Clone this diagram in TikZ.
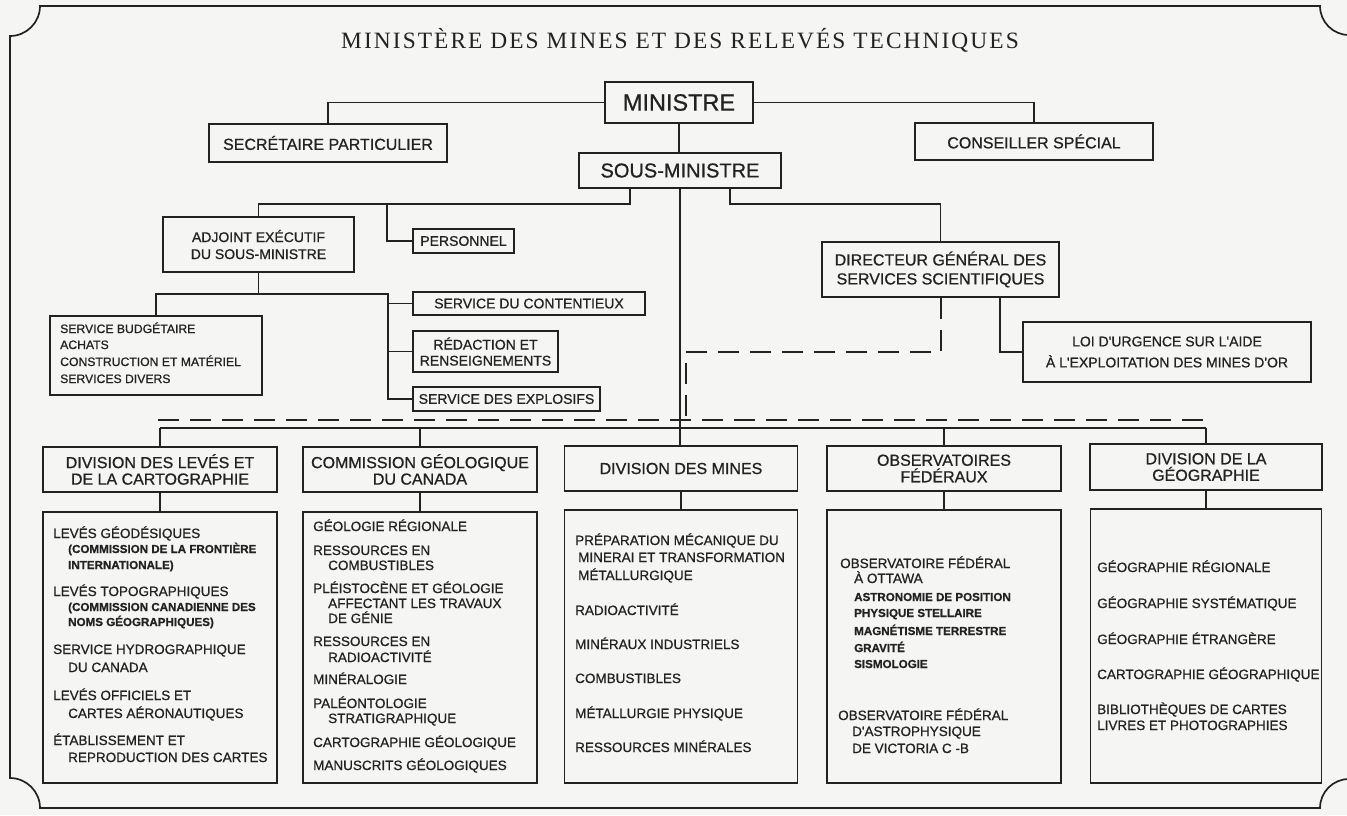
\documentclass[tikz,border=0pt]{standalone}
\usepackage{fontspec}
\newfontfamily\chartsans[FakeBold=0.8]{Liberation Sans}
\newfontfamily\titleserif[LetterSpace=8.8]{Liberation Serif}
\definecolor{ink}{RGB}{34,34,34}
\definecolor{paper}{RGB}{245,245,243}
\begin{document}
\begin{tikzpicture}[x=1pt,y=-1pt,
  line/.style={draw=ink, line width=1.2pt},
  dline/.style={draw=ink, line width=1.3pt, dash pattern=on 21pt off 11pt},
  frame/.style={draw=ink, line width=1.7pt},
  bx/.style={draw=ink, line width=1.8pt, inner sep=0pt, align=center, text=ink},
  f16/.style={font=\chartsans\fontsize{16}{16.5}\selectfont},
  f14/.style={font=\chartsans\fontsize{14}{17}\selectfont},
  f20/.style={font=\chartsans\fontsize{20}{22}\selectfont},
  f23/.style={font=\chartsans\fontsize{23.5}{25}\selectfont},
  itm/.style={anchor=base west, inner sep=0pt, text=ink, font=\chartsans\fontsize{13.5}{15}\selectfont},
  itms/.style={itm, font=\chartsans\bfseries\fontsize{11.6}{14}\selectfont},
  itmb/.style={itm, font=\chartsans\fontsize{12.2}{14}\selectfont}
]
\useasboundingbox (0,0) rectangle (1347,815);
\fill[paper] (0,0) rectangle (1347,815);

% frame with concave corners
\draw[frame] (10,36) -- (10,778) .. controls (26.5,778) and (40,791.5) .. (40,808)
  -- (1320,808) .. controls (1320,792) and (1333,779) .. (1349,779)
  -- (1349,35) .. controls (1333,35) and (1320,22) .. (1320,6)
  -- (40,6) .. controls (40,22.5) and (26.5,36) .. (10,36) -- cycle;

% title
\node[anchor=base, font=\titleserif\fontsize{23.4}{28}\selectfont, text=ink, inner sep=0pt] (title) at (680,48)
  {MINISTÈRE DES MINES ET DES RELEVÉS TECHNIQUES};

% upper boxes
\node[bx, f23, minimum width=148pt, minimum height=41pt] (min) at (679,102.5) {MINISTRE};
\node[bx, f20, minimum width=202pt, minimum height=35pt] (sous) at (680,170.5) {SOUS-MINISTRE};
\node[bx, f16, minimum width=238pt, minimum height=38pt] (sec) at (328,143) {SECRÉTAIRE PARTICULIER};
\node[bx, f16, minimum width=238pt, minimum height=37pt] (cons) at (1034,141.5) {CONSEILLER SPÉCIAL};
\node[bx, f14, minimum width=191pt, minimum height=55pt] (adj) at (258.5,244.5) {ADJOINT EXÉCUTIF\\DU SOUS-MINISTRE};
\node[bx, f14, minimum width=101pt, minimum height=24pt] (pers) at (463.5,241) {PERSONNEL};
\node[bx, f14, minimum width=232pt, minimum height=23pt] (cont) at (529,303.5) {SERVICE DU CONTENTIEUX};
\node[bx, f14, font=\chartsans\fontsize{14}{16}\selectfont, minimum width=145pt, minimum height=41pt] (red) at (485.5,351.5) {RÉDACTION ET\\RENSEIGNEMENTS};
\node[bx, f14, minimum width=187pt, minimum height=24pt] (expl) at (506.5,399) {SERVICE DES EXPLOSIFS};
\node[bx, minimum width=212pt, minimum height=79pt] (bud) at (156,355.5) {};
\node[bx, font=\chartsans\fontsize{16}{19}\selectfont, minimum width=237pt, minimum height=55pt] (dir) at (940.5,269.5) {DIRECTEUR GÉNÉRAL DES\\SERVICES SCIENTIFIQUES};
\node[bx, font=\chartsans\fontsize{14}{21}\selectfont, minimum width=288pt, minimum height=60pt] (loi) at (1167,352) {LOI D'URGENCE SUR L'AIDE\\À L'EXPLOITATION DES MINES D'OR};

\node[itmb] (b1) at (60,333) {SERVICE BUDGÉTAIRE};
\node[itmb] (b2) at (60,349) {ACHATS};
\node[itmb] (b3) at (60,366) {CONSTRUCTION ET MATÉRIEL};
\node[itmb] (b4) at (60,383) {SERVICES DIVERS};

% division headers
\node[bx, f16, minimum width=234pt, minimum height=45pt] (d1) at (160,469.5) {DIVISION DES LEVÉS ET\\DE LA CARTOGRAPHIE};
\node[bx, f16, minimum width=234pt, minimum height=45pt] (d2) at (420,469.5) {COMMISSION GÉOLOGIQUE\\DU CANADA};
\node[bx, f16, minimum width=233pt, minimum height=45pt] (d3) at (681,468.5) {DIVISION DES MINES};
\node[bx, f16, minimum width=234pt, minimum height=45pt] (d4) at (944,468.5) {OBSERVATOIRES\\FÉDÉRAUX};
\node[bx, f16, minimum width=232pt, minimum height=46pt] (d5) at (1206,467) {DIVISION DE LA\\GÉOGRAPHIE};

% content boxes
\node[bx, minimum width=234pt, minimum height=271pt] (c1) at (160,647.5) {};
\node[bx, minimum width=234pt, minimum height=271pt] (c2) at (420,647.5) {};
\node[bx, minimum width=233pt, minimum height=273pt] (c3) at (681,646.5) {};
\node[bx, minimum width=234pt, minimum height=273pt] (c4) at (944,646.5) {};
\node[bx, minimum width=231pt, minimum height=274pt] (c5) at (1206,646) {};

% content C1
\node[itm] (c1a) at (53,538) {LEVÉS GÉODÉSIQUES};
\node[itms] (c1b) at (68,553) {(COMMISSION DE LA FRONTIÈRE};
\node[itms] (c1c) at (68,569) {INTERNATIONALE)};
\node[itm] (c1d) at (53,596) {LEVÉS TOPOGRAPHIQUES};
\node[itms] (c1e) at (68,611) {(COMMISSION CANADIENNE DES};
\node[itms] (c1f) at (68,626) {NOMS GÉOGRAPHIQUES)};
\node[itm] (c1g) at (53,654) {SERVICE HYDROGRAPHIQUE};
\node[itm] (c1h) at (68,672) {DU CANADA};
\node[itm] (c1i) at (53,700) {LEVÉS OFFICIELS ET};
\node[itm] (c1j) at (68,718) {CARTES AÉRONAUTIQUES};
\node[itm] (c1k) at (53,745) {ÉTABLISSEMENT ET};
\node[itm] (c1l) at (68,762) {REPRODUCTION DES CARTES};

% content C2
\node[itm] (c2a) at (313,531) {GÉOLOGIE RÉGIONALE};
\node[itm] (c2b) at (313,555) {RESSOURCES EN};
\node[itm] (c2c) at (328,570) {COMBUSTIBLES};
\node[itm] (c2d) at (313,593) {PLÉISTOCÈNE ET GÉOLOGIE};
\node[itm] (c2e) at (328,608) {AFFECTANT LES TRAVAUX};
\node[itm] (c2f) at (328,623) {DE GÉNIE};
\node[itm] (c2g) at (313,646) {RESSOURCES EN};
\node[itm] (c2h) at (328,662) {RADIOACTIVITÉ};
\node[itm] (c2i) at (313,684) {MINÉRALOGIE};
\node[itm] (c2j) at (313,708) {PALÉONTOLOGIE};
\node[itm] (c2k) at (328,723) {STRATIGRAPHIQUE};
\node[itm] (c2l) at (313,747) {CARTOGRAPHIE GÉOLOGIQUE};
\node[itm] (c2m) at (313,770) {MANUSCRITS GÉOLOGIQUES};

% content C3
\node[itm] (c3a) at (575,545) {PRÉPARATION MÉCANIQUE DU};
\node[itm] (c3b) at (578,562) {MINERAI ET TRANSFORMATION};
\node[itm] (c3c) at (578,580) {MÉTALLURGIQUE};
\node[itm] (c3d) at (575,615) {RADIOACTIVITÉ};
\node[itm] (c3e) at (575,649) {MINÉRAUX INDUSTRIELS};
\node[itm] (c3f) at (575,683) {COMBUSTIBLES};
\node[itm] (c3g) at (575,718) {MÉTALLURGIE PHYSIQUE};
\node[itm] (c3h) at (575,752) {RESSOURCES MINÉRALES};

% content C4
\node[itm] (c4a) at (840,568) {OBSERVATOIRE FÉDÉRAL};
\node[itm] (c4b) at (854,583) {À OTTAWA};
\node[itms] (c4c) at (854,601) {ASTRONOMIE DE POSITION};
\node[itms] (c4d) at (854,617) {PHYSIQUE STELLAIRE};
\node[itms] (c4e) at (854,635) {MAGNÉTISME TERRESTRE};
\node[itms] (c4f) at (854,652) {GRAVITÉ};
\node[itms] (c4g) at (854,668) {SISMOLOGIE};
\node[itm] (c4h) at (838,720) {OBSERVATOIRE FÉDÉRAL};
\node[itm] (c4i) at (852,736) {D'ASTROPHYSIQUE};
\node[itm] (c4j) at (852,753) {DE VICTORIA C -B};

% content C5
\node[itm] (c5a) at (1097,572) {GÉOGRAPHIE RÉGIONALE};
\node[itm] (c5b) at (1097,608) {GÉOGRAPHIE SYSTÉMATIQUE};
\node[itm] (c5c) at (1097,644) {GÉOGRAPHIE ÉTRANGÈRE};
\node[itm] (c5d) at (1097,679) {CARTOGRAPHIE GÉOGRAPHIQUE};
\node[itm] (c5e) at (1097,714) {BIBLIOTHÈQUES DE CARTES};
\node[itm] (c5f) at (1097,730) {LIVRES ET PHOTOGRAPHIES};

% connectors
\coordinate (sl) at (630,188);
\coordinate (sr) at (730,188);
\coordinate (pj) at (387,204);
\coordinate (aj) at (258.5,294);
\coordinate (ar) at (388,294);
\coordinate (dd) at (941,352);
\coordinate (dv) at (686,352);
\coordinate (dve) at (686,420);
\coordinate (dl) at (1000,297);
\coordinate (dbl) at (158,420);
\coordinate (dbr) at (1206,420);
\coordinate (bl) at (160,428);
\coordinate (br) at (1206,428);

\draw[line] (min.west) -| (sec.north);
\draw[line] (min.east) -| (cons.north);
\draw[line] (min.south) -- (min.south |- sous.north);
\draw[line] (sl) -- (sl |- pj) -| (adj.north);
\draw[line] (pj) |- (pers.west);
\draw[line] (adj.south) -- (aj) -| (bud.north);
\draw[line] (aj) -- (ar) |- (expl.west);
\draw[line] (ar |- cont.west) -- (cont.west);
\draw[line] (ar |- red.west) -- (red.west);
\draw[line] (sr) -- (sr |- pj) -| (dir.north);
\draw[dline] (dir.south -| dd) -- (dd) -- (dv) -- (dve);
\draw[line] (dl) |- (loi.west);
\draw[dline] (dbl) -- (dbr);
\draw[line] (sous.south) -- (sous.south |- d3.north);
\draw[line] (bl) -- (br);
\foreach \k in {1,2,4,5} \draw[line] (d\k.north |- bl) -- (d\k.north);
\foreach \k in {1,...,5} \draw[line] (d\k.south) -- (c\k.north);
\end{tikzpicture}
\end{document}
